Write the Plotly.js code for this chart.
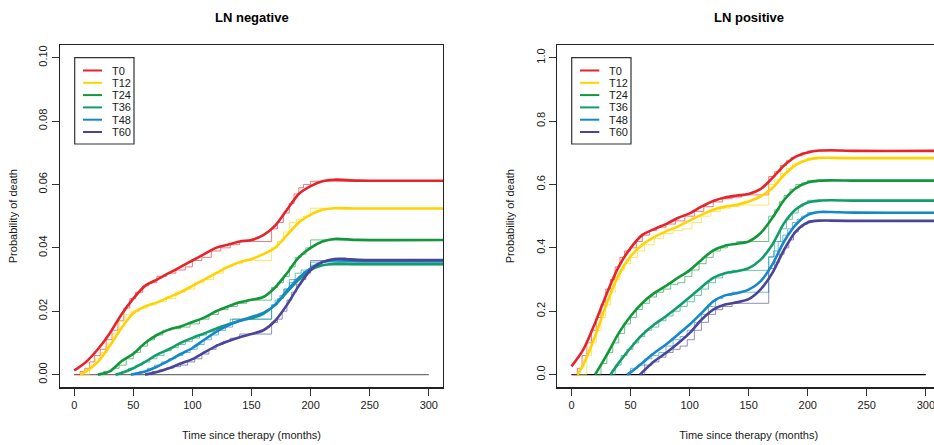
<!DOCTYPE html>
<html>
<head>
<meta charset="utf-8">
<script src="https://cdn.plot.ly/plotly-3.0.1.min.js"></script>
<style>html,body{margin:0;padding:0;overflow:hidden;background:#fff;}#chart{width:950px;height:445px;}</style>
</head>
<body>
<div id="chart"></div>
<script>
// ---------- data ----------
var seriesNames = ["T0", "T12", "T24", "T36", "T48", "T60"];
var seriesColors = ["#E5242B", "#FFD300", "#12983A", "#119E6A", "#1688C9", "#4A4596"];
var xTicks = [0, 50, 100, 150, 200, 250, 300];
var yTicksNeg = [0, 0.02, 0.04, 0.06, 0.08, 0.10];
var yTickTextNeg = ["0.00", "0.02", "0.04", "0.06", "0.08", "0.10"];
var yTicksPos = [0, 0.2, 0.4, 0.6, 0.8, 1.0];
var yTickTextPos = ["0.0", "0.2", "0.4", "0.6", "0.8", "1.0"];
var baselineX = [0, 300];
var baselineY = [0, 0];

// LN negative: smooth curves
var negT0x  = [0,10,20,30,40,50,60,70,80,90,100,110,120,130,140,150,160,170,180,190,200,210,220,240,320];
var negT0y  = [0.0013,0.004,0.008,0.013,0.019,0.024,0.028,0.030,0.032,0.034,0.036,0.038,0.040,0.041,0.042,0.0425,0.044,0.047,0.052,0.057,0.0595,0.061,0.0615,0.0612,0.0612];
var negT12x = [5,10,20,30,40,50,60,70,80,90,100,110,120,130,140,150,160,170,180,190,200,210,220,240,320];
var negT12y = [0,0.001,0.004,0.009,0.0147,0.0194,0.0215,0.0228,0.0244,0.026,0.028,0.030,0.032,0.034,0.0355,0.0365,0.038,0.040,0.044,0.048,0.0505,0.052,0.0525,0.0524,0.0524];
var negT24x = [20,30,40,50,60,70,80,90,100,110,120,130,140,150,160,170,180,190,200,210,220,240,320];
var negT24y = [0,0.001,0.0042,0.0066,0.010,0.0125,0.0142,0.0152,0.0166,0.018,0.020,0.0215,0.0228,0.0236,0.0245,0.0275,0.032,0.037,0.040,0.042,0.0428,0.0425,0.0425];
var negT36x = [35,40,50,60,70,80,90,100,110,120,130,140,150,160,170,180,190,200,210,220,240,320];
var negT36y = [0,0.0005,0.002,0.004,0.0063,0.008,0.010,0.0116,0.013,0.0145,0.0158,0.017,0.0178,0.0192,0.022,0.026,0.030,0.033,0.0345,0.035,0.0349,0.0349];
var negT48x = [48,55,60,70,80,90,100,110,120,130,140,150,160,170,180,190,200,210,220,240,320];
var negT48y = [0,0.0005,0.001,0.0025,0.0044,0.0065,0.0084,0.011,0.0135,0.0155,0.017,0.0182,0.0195,0.022,0.0265,0.0305,0.0335,0.0355,0.036,0.0358,0.0358];
var negT60x = [60,70,80,90,100,110,120,130,140,150,160,170,180,190,200,210,220,230,240,320];
var negT60y = [0,0.0008,0.002,0.0035,0.0049,0.007,0.009,0.0105,0.0118,0.0128,0.014,0.017,0.022,0.028,0.033,0.0355,0.0365,0.0365,0.0362,0.0362];

// LN negative: step estimates
var negS0x  = [0,5,9,13,17,22,27,32,37,42,47,52,58,63,70,78,86,94,100,108,116,124,132,140,148,167,172,177,182,186,190,194,200,312];
var negS0y  = [0,0.001,0.002,0.004,0.006,0.008,0.011,0.014,0.017,0.021,0.024,0.026,0.028,0.029,0.031,0.032,0.033,0.034,0.036,0.037,0.039,0.040,0.041,0.042,0.042,0.046,0.048,0.051,0.054,0.057,0.059,0.060,0.061,0.061];
var negS12x = [5,13,18,23,28,33,38,43,48,55,62,70,78,86,94,102,110,118,126,134,142,150,167,172,177,182,188,194,200,312];
var negS12y = [0,0.003,0.005,0.007,0.010,0.013,0.017,0.019,0.020,0.021,0.022,0.023,0.024,0.026,0.027,0.029,0.030,0.032,0.034,0.035,0.036,0.036,0.040,0.042,0.045,0.048,0.049,0.050,0.0525,0.0525];
var negS24x = [20,25,32,38,44,50,56,62,68,75,82,90,98,106,114,122,130,138,146,167,172,177,182,187,192,196,200,312];
var negS24y = [0,0.001,0.002,0.003,0.005,0.007,0.009,0.011,0.0125,0.014,0.0145,0.015,0.016,0.0175,0.019,0.0205,0.0215,0.0225,0.0235,0.0275,0.029,0.031,0.034,0.037,0.038,0.040,0.0425,0.0425];
var negS36x = [35,40,46,52,58,64,70,76,82,88,94,100,106,112,118,124,132,167,172,177,182,187,192,200,312];
var negS36y = [0,0.001,0.002,0.003,0.004,0.005,0.006,0.0075,0.0085,0.0095,0.0105,0.0115,0.0125,0.0135,0.0145,0.0155,0.0175,0.022,0.024,0.027,0.030,0.032,0.033,0.0345,0.0345];
var negS48x = [48,55,62,68,74,80,86,92,98,104,110,116,122,128,134,167,170,174,178,182,186,190,194,200,312];
var negS48y = [0,0.001,0.002,0.003,0.004,0.005,0.006,0.007,0.008,0.0095,0.011,0.0125,0.014,0.015,0.0175,0.022,0.0235,0.025,0.027,0.029,0.030,0.031,0.0325,0.0355,0.0355];
var negS60x = [60,66,72,78,84,90,96,102,108,114,120,126,132,140,167,172,176,180,184,188,192,196,200,312];
var negS60y = [0,0.001,0.0015,0.002,0.0025,0.003,0.004,0.005,0.0065,0.008,0.0095,0.0105,0.0115,0.0128,0.0165,0.0175,0.020,0.0235,0.026,0.0285,0.030,0.032,0.036,0.036];

// LN positive: smooth curves
var posT0x  = [0,10,20,30,40,50,60,70,80,90,100,110,120,130,140,150,160,170,180,190,200,210,220,240,320];
var posT0y  = [0.026,0.079,0.163,0.257,0.341,0.399,0.441,0.459,0.475,0.494,0.509,0.530,0.548,0.559,0.565,0.570,0.585,0.620,0.660,0.688,0.701,0.707,0.708,0.706,0.706];
var posT12x = [5,10,20,30,40,50,60,70,80,90,100,110,120,130,140,150,160,170,180,190,200,210,220,240,320];
var posT12y = [0,0.031,0.121,0.226,0.315,0.373,0.410,0.434,0.452,0.467,0.486,0.504,0.520,0.530,0.536,0.546,0.562,0.588,0.630,0.662,0.678,0.684,0.684,0.683,0.683];
var posT24x = [20,30,40,50,60,70,80,90,100,110,120,130,140,150,160,170,180,190,200,210,220,240,320];
var posT24y = [0,0.063,0.131,0.184,0.226,0.257,0.280,0.305,0.329,0.362,0.392,0.407,0.413,0.420,0.446,0.494,0.551,0.588,0.606,0.612,0.613,0.612,0.612];
var posT36x = [33,40,50,60,70,80,90,100,110,120,130,140,150,160,170,180,190,200,210,220,240,320];
var posT36y = [0,0.037,0.084,0.126,0.158,0.184,0.213,0.244,0.276,0.305,0.320,0.326,0.336,0.362,0.410,0.478,0.522,0.543,0.549,0.550,0.549,0.549];
var posT48x = [47,50,60,70,80,90,100,110,120,130,140,150,160,170,180,190,200,210,220,240,320];
var posT48y = [0,0.007,0.037,0.068,0.095,0.126,0.158,0.194,0.231,0.250,0.257,0.268,0.294,0.347,0.420,0.473,0.504,0.513,0.513,0.511,0.511];
var posT60x = [58,70,80,90,100,110,120,130,140,150,160,170,180,190,200,210,220,240,320];
var posT60y = [0,0.042,0.068,0.098,0.131,0.173,0.205,0.221,0.228,0.238,0.268,0.320,0.394,0.452,0.480,0.486,0.486,0.485,0.485];

// LN positive: step estimates
var posS0x  = [0,5,9,13,17,21,25,29,33,37,41,45,50,55,60,66,72,80,88,96,104,112,120,128,136,144,167,172,177,182,186,190,195,200,312];
var posS0y  = [0,0.02,0.06,0.10,0.14,0.18,0.22,0.27,0.30,0.34,0.37,0.39,0.40,0.42,0.44,0.455,0.465,0.475,0.485,0.50,0.515,0.53,0.545,0.555,0.56,0.567,0.625,0.64,0.66,0.675,0.685,0.69,0.70,0.706,0.706];
var posS12x = [5,13,17,21,25,29,33,37,41,45,50,56,62,70,78,86,94,102,110,118,126,134,142,167,172,177,182,187,192,196,200,312];
var posS12y = [0,0.06,0.10,0.14,0.18,0.22,0.26,0.30,0.33,0.35,0.37,0.39,0.41,0.43,0.445,0.455,0.46,0.48,0.50,0.515,0.525,0.53,0.535,0.60,0.615,0.635,0.65,0.665,0.67,0.675,0.684,0.684];
var posS24x = [20,25,30,35,40,45,50,55,60,66,72,78,84,90,96,102,108,114,120,126,132,140,167,172,176,180,185,190,195,200,312];
var posS24y = [0,0.035,0.07,0.10,0.13,0.16,0.18,0.205,0.225,0.245,0.26,0.27,0.285,0.29,0.31,0.33,0.35,0.37,0.39,0.40,0.41,0.42,0.50,0.52,0.545,0.565,0.585,0.60,0.605,0.613,0.613];
var posS36x = [33,37,42,47,52,57,62,68,74,80,86,92,98,104,110,116,122,128,136,167,172,177,182,187,192,196,200,312];
var posS36y = [0,0.03,0.06,0.08,0.10,0.12,0.14,0.15,0.17,0.185,0.20,0.215,0.23,0.25,0.27,0.29,0.305,0.32,0.329,0.373,0.42,0.46,0.49,0.51,0.53,0.54,0.55,0.55];
var posS48x = [47,50,56,62,68,74,80,86,92,98,104,110,116,122,128,136,167,171,175,179,183,187,191,195,200,312];
var posS48y = [0,0.02,0.03,0.05,0.06,0.07,0.09,0.11,0.12,0.14,0.165,0.19,0.215,0.24,0.25,0.26,0.37,0.39,0.42,0.44,0.46,0.48,0.49,0.50,0.512,0.512];
var posS60x = [58,62,68,74,80,86,92,98,104,110,116,122,128,136,167,172,176,180,184,188,192,196,200,312];
var posS60y = [0,0.03,0.04,0.055,0.07,0.08,0.09,0.11,0.14,0.165,0.19,0.205,0.215,0.225,0.335,0.355,0.38,0.40,0.425,0.45,0.465,0.475,0.485,0.485];

// ---------- build ----------
var W = 950, H = 445;
function px(p){ return p / W; }
function py(p){ return 1 - p / H; }

var negSmooth = [[negT0x,negT0y],[negT12x,negT12y],[negT24x,negT24y],[negT36x,negT36y],[negT48x,negT48y],[negT60x,negT60y]];
var negStep   = [[negS0x,negS0y],[negS12x,negS12y],[negS24x,negS24y],[negS36x,negS36y],[negS48x,negS48y],[negS60x,negS60y]];
var posSmooth = [[posT0x,posT0y],[posT12x,posT12y],[posT24x,posT24y],[posT36x,posT36y],[posT48x,posT48y],[posT60x,posT60y]];
var posStep   = [[posS0x,posS0y],[posS12x,posS12y],[posS24x,posS24y],[posS36x,posS36y],[posS48x,posS48y],[posS60x,posS60y]];

var traces = [];
function addPanel(smooth, step, xa, ya, baseColor){
  traces.push({x: baselineX, y: baselineY, xaxis: xa, yaxis: ya, mode: 'lines',
    line: {color: baseColor, width: 1.2}, showlegend: false, hoverinfo: 'skip'});
  step.forEach(function(s, i){
    traces.push({x: s[0], y: s[1], xaxis: xa, yaxis: ya, mode: 'lines', name: seriesNames[i] + ' KM',
      line: {color: seriesColors[i], width: 1, shape: 'hv'}, opacity: 0.6, showlegend: false});
  });
  smooth.forEach(function(s, i){
    traces.push({x: s[0], y: s[1], xaxis: xa, yaxis: ya, mode: 'lines', name: seriesNames[i],
      line: {color: seriesColors[i], width: 2.6, shape: 'spline', smoothing: 0.8}, showlegend: false});
  });
}
addPanel(negSmooth, negStep, 'x', 'y', '#707070');
addPanel(posSmooth, posStep, 'x2', 'y2', '#000000');

var font = {family: 'Liberation Sans, Arial, Helvetica, sans-serif', size: 11, color: '#1a1a1a'};
var yDom = [(H - 387.3) / H, (H - 45) / H];

function xAxis(dom, anchor){
  return {domain: dom, anchor: anchor, range: [-12, 312], tickvals: xTicks, ticktext: xTicks.map(String),
    ticks: 'outside', ticklen: 7, tickcolor: '#333', tickwidth: 1, showline: true, mirror: true,
    linecolor: '#222', linewidth: 1.2, showgrid: false, zeroline: false, automargin: false,
    tickfont: font, title: {text: 'Time since therapy (months)', font: font, standoff: 21}};
}
function yAxis(anchor, range, vals, txt){
  return {domain: yDom, anchor: anchor, range: range, tickvals: vals, ticktext: txt, tickangle: -90,
    ticks: 'outside', ticklen: 7, tickcolor: '#333', tickwidth: 1, showline: true, mirror: true,
    linecolor: '#222', linewidth: 1.2, showgrid: false, zeroline: false, automargin: false,
    tickfont: font, title: {text: 'Probability of death', font: font, standoff: 17}};
}

var shapes = [], annotations = [];
function addLegend(x0, lineX0, lineX1, textX, rowsY){
  shapes.push({type: 'rect', xref: 'paper', yref: 'paper', x0: px(x0), x1: px(x0 + 59.3), y0: py(57.7), y1: py(144),
    line: {color: '#333', width: 1.2}, fillcolor: 'rgba(255,255,255,1)', layer: 'above'});
  seriesNames.forEach(function(n, i){
    shapes.push({type: 'line', xref: 'paper', yref: 'paper', x0: px(lineX0), x1: px(lineX1), y0: py(rowsY[i]), y1: py(rowsY[i]),
      line: {color: seriesColors[i], width: 2}, layer: 'above'});
    annotations.push({xref: 'paper', yref: 'paper', x: px(textX), y: py(rowsY[i]), xanchor: 'left', yanchor: 'middle',
      text: n, showarrow: false, font: font});
  });
}
var legendRows = [70.5, 82.8, 95.1, 107.4, 119.7, 132];
addLegend(74.7, 83, 102, 110, legendRows);
addLegend(571.7, 580, 599.3, 607, legendRows);

annotations.push({xref: 'paper', yref: 'paper', x: px(251.5), y: py(17), xanchor: 'center', yanchor: 'middle',
  text: '<b>LN negative</b>', showarrow: false, font: {family: font.family, size: 13, color: '#000'}});
annotations.push({xref: 'paper', yref: 'paper', x: px(748.7), y: py(17), xanchor: 'center', yanchor: 'middle',
  text: '<b>LN positive</b>', showarrow: false, font: {family: font.family, size: 13, color: '#000'}});

var layout = {
  width: W, height: H, margin: {l: 0, r: 0, t: 0, b: 0}, paper_bgcolor: '#fff', plot_bgcolor: '#fff',
  showlegend: false, font: font,
  xaxis: xAxis([60 / W, 443 / W], 'y'),
  yaxis: yAxis('x', [-0.004, 0.104], yTicksNeg, yTickTextNeg),
  xaxis2: xAxis([557.3 / W, 940 / W], 'y2'),
  yaxis2: yAxis('x2', [-0.04, 1.04], yTicksPos, yTickTextPos),
  shapes: shapes, annotations: annotations
};
Plotly.newPlot('chart', traces, layout, {staticPlot: true, displayModeBar: false});
</script>
</body>
</html>
